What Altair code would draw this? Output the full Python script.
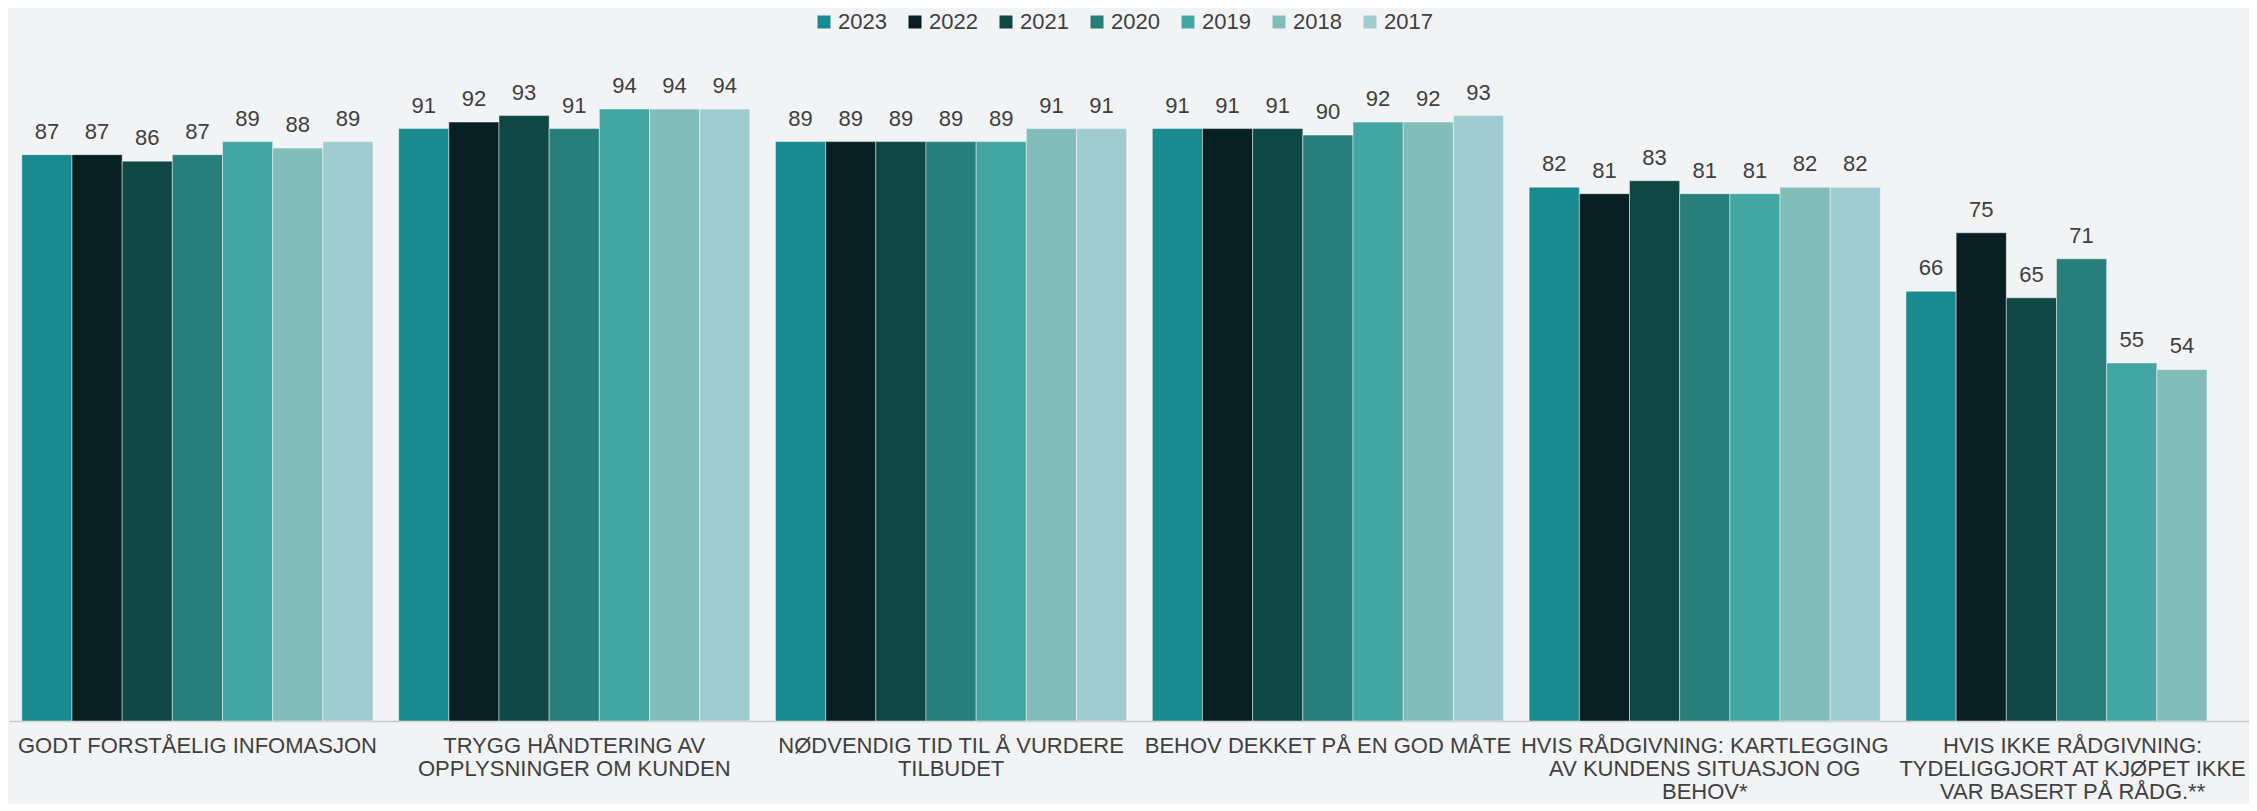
import altair as alt
import pandas as pd

categories = [
    "GODT FORSTÅELIG INFOMASJON",
    "TRYGG HÅNDTERING AV|OPPLYSNINGER OM KUNDEN",
    "NØDVENDIG TID TIL Å VURDERE|TILBUDET",
    "BEHOV DEKKET PÅ EN GOD MÅTE",
    "HVIS RÅDGIVNING: KARTLEGGING|AV KUNDENS SITUASJON OG|BEHOV*",
    "HVIS IKKE RÅDGIVNING:|TYDELIGGJORT AT KJØPET IKKE|VAR BASERT PÅ RÅDG.**",
]
years = ["2023", "2022", "2021", "2020", "2019", "2018", "2017"]
v2023 = [87, 91, 89, 91, 82, 66]
v2022 = [87, 92, 89, 91, 81, 75]
v2021 = [86, 93, 89, 91, 83, 65]
v2020 = [87, 91, 89, 90, 81, 71]
v2019 = [89, 94, 89, 92, 81, 55]
v2018 = [88, 94, 91, 92, 82, 54]
v2017 = [89, 94, 91, 93, 82, None]
colors = ["#1A8A91", "#071F20", "#0E4744", "#287E7B", "#44A6A2", "#83BDBA", "#A0CCCF"]

series = [v2023, v2022, v2021, v2020, v2019, v2018, v2017]
rows = []
for y, vals in zip(years, series):
    for c, v in zip(categories, vals):
        if v is not None:
            rows.append({"cat": c, "year": y, "value": v})
df = pd.DataFrame(rows)

FONT = "Liberation Sans"
TXT = "#404040"

base = alt.Chart(df).encode(
    x=alt.X(
        "cat:N",
        sort=categories,
        scale=alt.Scale(domain=categories, range=[0, 2261], paddingInner=0.068, paddingOuter=0.034),
        axis=alt.Axis(
            title=None,
            labelExpr="split(datum.label, '|')",
            labelAngle=0,
            labelFontSize=22,
            labelColor=TXT,
            labelFont=FONT,
            labelLineHeight=23,
            labelPadding=14,
            labelOffset={"condition": {"test": "datum.index > 0.9", "value": -9}, "value": 0},
            labelLimit=1000,
            labelOverlap=False,
            labelBaseline="top",
            ticks=False,
            domainColor="#C8C8C8",
            domainWidth=1.5,
            grid=False,
        ),
    ),
    xOffset=alt.XOffset(
        "year:N", sort=years, scale=alt.Scale(domain=years, paddingInner=0, paddingOuter=0)
    ),
    y=alt.Y("value:Q", scale=alt.Scale(domain=[0, 100]), axis=None),
)

bars = base.mark_bar(stroke="#ffffff", strokeOpacity=0.45, strokeWidth=1).encode(
    color=alt.Color(
        "year:N",
        sort=years,
        scale=alt.Scale(domain=years, range=colors),
        legend=alt.Legend(
            title=None,
            orient="none",
            legendX=804,
            legendY=-59,
            direction="horizontal",
            symbolType="square",
            symbolSize=169,
            symbolStrokeWidth=0,
            labelFontSize=22,
            labelFont=FONT,
            labelColor=TXT,
            labelOffset=3,
            columnPadding=17,
            padding=0,
        ),
    )
)

labels = base.mark_text(
    dy=-16, baseline="alphabetic", fontSize=22, color=TXT, font=FONT
).encode(text="value:Q")

chart = (
    alt.layer(bars, labels)
    .properties(
        width=2240,
        height=651,
        background="#F2F3F5",
        padding={"left": 1, "top": 62, "right": 0, "bottom": 83},
        autosize=alt.AutoSizeParams(type="none"),
    )
    .configure_view(stroke=None)
)

chart.save("out.html", embed_options={"renderer": "svg", "actions": False})
